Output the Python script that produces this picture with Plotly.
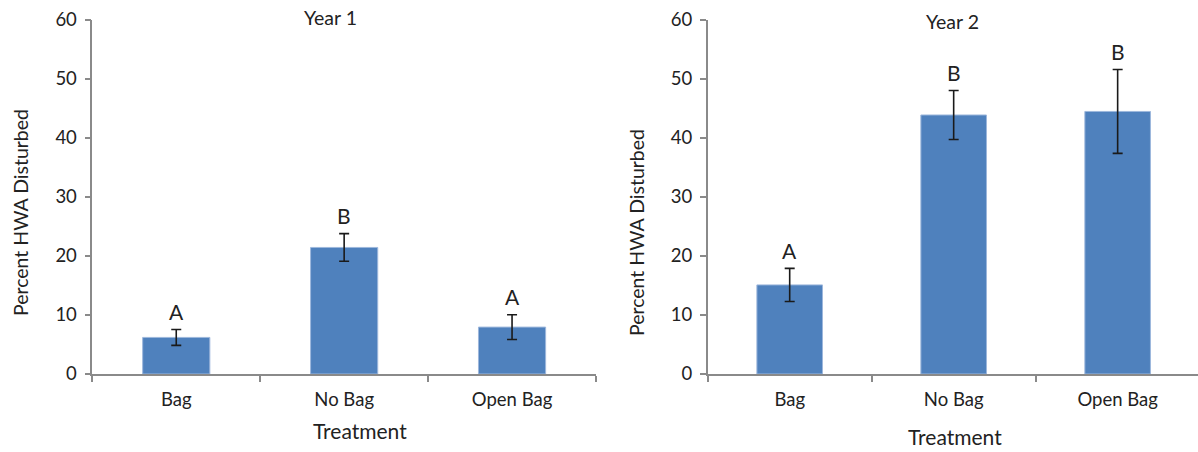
import plotly.graph_objects as go

# Treatment categories shared by both years
treatments = ["Bag", "No Bag", "Open Bag"]

# Year 1: mean percent HWA disturbed, standard error, significance group
year1_mean = [6.2, 21.45, 7.95]
year1_err = [1.35, 2.35, 2.1]
year1_group = ["A", "B", "A"]

# Year 2
year2_mean = [15.1, 43.9, 44.5]
year2_err = [2.8, 4.15, 7.1]
year2_group = ["A", "B", "B"]

y_ticks = [0, 10, 20, 30, 40, 50, 60]

FONT = "Lato"
BAR_COLOR = "#4F81BD"
AXIS_COLOR = "#8a8a8a"
TEXT_COLOR = "#222222"

fig = go.Figure()

panels = [
    ("x", "y", year1_mean, year1_err, year1_group),
    ("x2", "y2", year2_mean, year2_err, year2_group),
]

for xa, ya, means, errs, groups in panels:
    fig.add_trace(go.Bar(
        x=treatments, y=means, xaxis=xa, yaxis=ya,
        width=0.4,
        marker=dict(color=BAR_COLOR, line=dict(color="#9db7dc", width=1)),
        error_y=dict(type="data", array=errs, visible=True,
                     color="#1a1a1a", thickness=1.6, width=5),
        showlegend=False, hoverinfo="x+y",
    ))
    # Significance letters above each error bar
    for t, m, e, g in zip(treatments, means, errs, groups):
        fig.add_annotation(
            x=t, y=m + e, xref=xa, yref=ya, text=g, showarrow=False,
            yanchor="middle", yshift=18,
            font=dict(family=FONT, size=21, color=TEXT_COLOR),
        )

y_dom = [78 / 452, 432 / 452]

common_x = dict(
    type="category", showline=True, linecolor=AXIS_COLOR, linewidth=1.5,
    ticks="outside", tickson="boundaries", ticklen=6, tickcolor=AXIS_COLOR,
    tickwidth=1.5, showgrid=False, zeroline=False, automargin=False,
    tickfont=dict(family=FONT, size=18.5, color=TEXT_COLOR),
    ticklabelstandoff=8,
)
common_y = dict(
    range=[0, 60], tickvals=y_ticks, showline=True, linecolor=AXIS_COLOR,
    linewidth=1.5, ticks="outside", ticklen=6, tickcolor=AXIS_COLOR,
    tickwidth=1.5, showgrid=False, zeroline=False, domain=y_dom,
    automargin=False,
    tickfont=dict(family=FONT, size=18.5, color=TEXT_COLOR),
    ticklabelstandoff=4,
)

fig.update_layout(
    width=1198, height=452,
    margin=dict(l=0, r=0, t=0, b=0, autoexpand=False),
    paper_bgcolor="white", plot_bgcolor="white",
    bargap=0.6,
    xaxis=dict(common_x, domain=[92.3 / 1198, 596 / 1198], anchor="y",
               range=[-0.5, 2.5]),
    yaxis=dict(common_y, anchor="x"),
    xaxis2=dict(common_x, domain=[707.7 / 1198, 1.0], anchor="y2",
                range=[-0.5, 2.49]),
    yaxis2=dict(common_y, anchor="x2"),
)

# Panel titles and axis titles
titles = [
    ("Year 1", 330.5, 18, 0, 19.5),
    ("Year 2", 952, 21, 0, 19.5),
    ("Treatment", 360, 430, 0, 21),
    ("Treatment", 954.5, 436, 0, 21),
    ("Percent HWA Disturbed", 20, 213, -90, 19.5),
    ("Percent HWA Disturbed", 636, 233, -90, 19.5),
]
for text, px, py, ang, size in titles:
    fig.add_annotation(
        x=px / 1198, y=1 - py / 452, xref="paper", yref="paper",
        text=text, showarrow=False, textangle=ang,
        xanchor="center", yanchor="middle",
        font=dict(family=FONT, size=size, color=TEXT_COLOR),
    )

fig.write_html("out.html")
